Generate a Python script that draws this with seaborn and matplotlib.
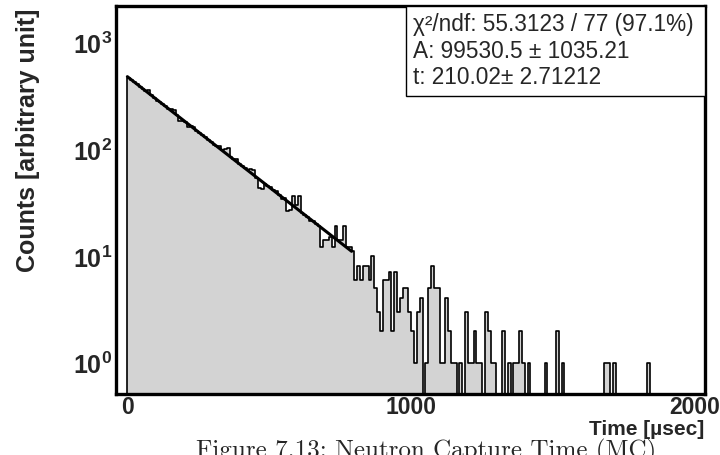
import numpy as np
import pandas as pd
import seaborn as sns
import matplotlib.pyplot as plt
from matplotlib.patches import Rectangle
from matplotlib.ticker import FixedLocator, FuncFormatter, LogLocator, NullFormatter

# histogram contents, 10 usec bins from 0 to 2000
bin_width = 10
counts = [
    463, 442, 420, 402, 380, 366, 350, 355, 318, 300,
    278, 276, 262, 250, 238, 236, 232, 206, 184, 183,
    178, 161, 162, 160, 148, 141, 135, 128, 121, 117,
    108, 107, 106, 97, 100, 101, 84, 81, 80, 73,
    69, 66, 63, 65, 64, 54, 43, 42, 47, 45,
    44, 41, 40, 37, 34, 35, 26, 27, 36, 30,
    36, 25, 24, 23, 21, 21, 20, 19, 12, 14,
    14, 15, 12, 19, 14, 14, 19, 12, 12, 11,
    6, 8, 6, 8, 8, 6, 10, 5, 3, 2,
    6, 6, 7, 2, 7, 3, 4, 5, 5, 3,
    2, 1, 3, 4, 0, 1, 5, 8, 5, 5,
    1, 1, 4, 2, 1, 1, 0, 1, 0, 3,
    1, 1, 2, 1, 1, 0, 3, 2, 1, 1,
    0, 0, 2, 0, 1, 0, 1, 1, 2, 1,
    0, 1, 0, 0, 0, 0, 0, 1, 0, 0,
    0, 2, 0, 1, 0, 0, 0, 0, 0, 0,
    0, 0, 0, 0, 0, 0, 0, 0, 1, 1,
    0, 1, 0, 0, 0, 0, 0, 0, 0, 0,
    0, 0, 0, 1, 0, 0, 0, 0, 0, 0,
    0, 0, 0, 0, 0, 0, 0, 0, 0, 0,
]

# fit result  f(t) = A/tau * exp(-t/tau), fitted from 0 to 790
fit_A = 99530.5
fit_tau = 210.02
fit_range = (0, 790)
stats_lines = [
    "\u03c7\u00b2/ndf: 55.3123 / 77 (97.1%)",
    "A: 99530.5 \u00b1 1035.21",
    "t: 210.02\u00b1 2.71212",
]

sns.set_style("white")
plt.rcParams['font.family'] = ['Liberation Sans', 'DejaVu Sans']
plt.rcParams['mathtext.fontset'] = 'custom'
plt.rcParams['mathtext.rm'] = 'Liberation Sans'
plt.rcParams['mathtext.bf'] = 'Liberation Sans:bold'

n_bins = len(counts)
df = pd.DataFrame({
    'time': bin_width * np.arange(n_bins) + bin_width / 2,
    'counts': counts,
})

fig = plt.figure(figsize=(7.2, 4.56), dpi=100)
ax = fig.add_axes([116 / 720, 1 - 395 / 456, 589 / 720, 388 / 456])

sns.histplot(data=df, x='time', weights='counts', bins=n_bins,
             binrange=(0, n_bins * bin_width), element="step", fill=True,
             color="#d3d3d3", edgecolor="black", linewidth=1.2, alpha=1, ax=ax)

xs = np.linspace(fit_range[0], fit_range[1], 100)
sns.lineplot(x=xs, y=fit_A / fit_tau * np.exp(-xs / fit_tau), color="black",
             linewidth=2.2, ax=ax)

ax.set_yscale('log')
ax.set_xlim(-40, 2035)
ax.set_ylim(0.51, 2170)
ax.set_axisbelow(False)

ax.xaxis.set_major_locator(FixedLocator([0, 1000, 2000]))
ax.xaxis.set_minor_locator(FixedLocator(np.arange(0, 2001, 200)))
ax.yaxis.set_major_locator(LogLocator(base=10))
ax.yaxis.set_minor_locator(LogLocator(base=10, subs=np.arange(2, 10)))
ax.yaxis.set_minor_formatter(NullFormatter())
ax.yaxis.set_major_formatter(FuncFormatter(
    lambda v, p: r"$\mathbf{10^{%d}}$" % int(round(np.log10(v)))))

ax.tick_params(axis='x', which='major', direction='in', length=8, width=1.1,
               labelsize=16.5, pad=0.5)
ax.tick_params(axis='x', which='minor', direction='in', length=5, width=1.1)
ax.tick_params(axis='y', which='major', direction='in', length=7.5, width=1.1,
               labelsize=18, pad=3)
ax.tick_params(axis='y', which='minor', direction='in', length=5, width=1.1)
for lab in ax.get_xticklabels():
    lab.set_fontweight('bold')

for sp in ax.spines.values():
    sp.set_linewidth(2.4)
    sp.set_color('black')

ax.set_xlabel("")
ax.set_ylabel("")
fig.text(704 / 720, 1 - 430 / 456, "Time [\u00b5sec]", ha='right', va='center',
         fontsize=15, fontweight='bold')
fig.text(28 / 720, 1 - 140 / 456, "Counts [arbitrary unit]", rotation=90,
         ha='center', va='center', fontsize=18, fontweight='bold')

# stats box
box_left = (406 - 116) / 589
box_bottom = 1 - (97 - 7) / 388
ax.add_patch(Rectangle((box_left, box_bottom), 1 - box_left, 1 - box_bottom,
                       transform=ax.transAxes, facecolor='white',
                       edgecolor='black', linewidth=1.0, zorder=5))
for i, line in enumerate(stats_lines):
    ax.text((413 - 116) / 589, 1 - (24 + 27 * i - 7) / 388, line,
            transform=ax.transAxes, ha='left', va='center', fontsize=16.3,
            zorder=6)

fig.text(196 / 720, 1 - 439 / 456, "Figure 7.13: Neutron Capture Time (MC)",
         ha='left', va='top', fontsize=18, family='cmr10')

fig.savefig("out.png", dpi=100)
